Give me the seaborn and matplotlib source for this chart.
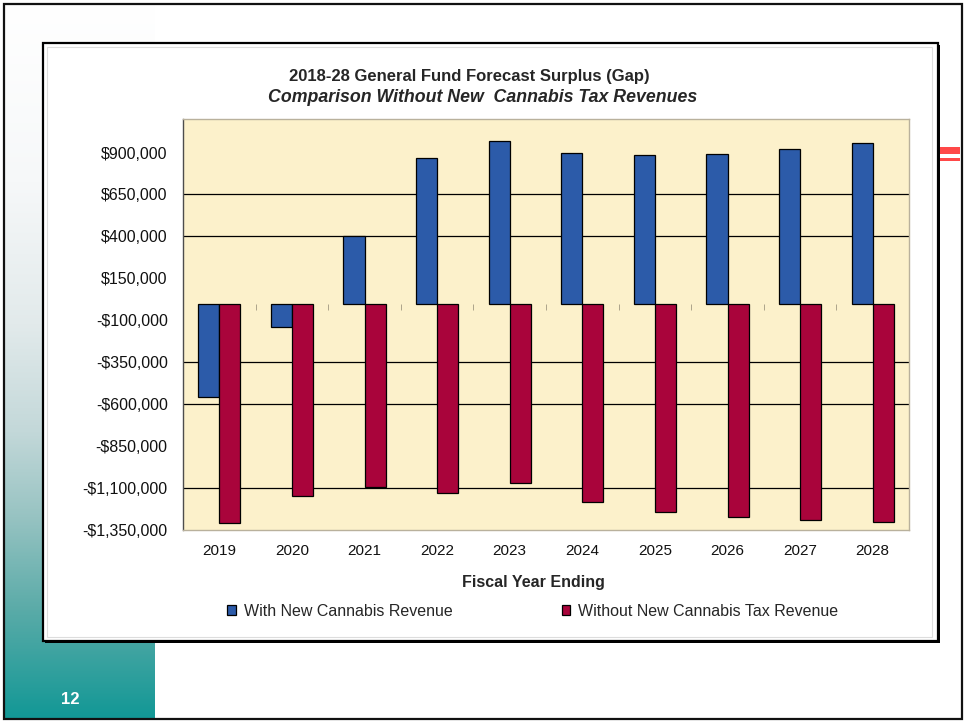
import numpy as np
import pandas as pd
import matplotlib
matplotlib.use("Agg")
import matplotlib.pyplot as plt
import matplotlib.ticker as mticker
from matplotlib import font_manager
from matplotlib.patches import Rectangle
from matplotlib.colors import LinearSegmentedColormap
import seaborn as sns

# ---- data -------------------------------------------------------------
years = ["2019", "2020", "2021", "2022", "2023", "2024", "2025", "2026", "2027", "2028"]
with_cannabis = [-560000, -140000, 405000, 870000, 970000, 900000, 887000, 893000, 920000, 954000]
without_cannabis = [-1310000, -1145000, -1095000, -1130000, -1068000,
                    -1183000, -1245000, -1273000, -1289000, -1304000]
series_names = ["With New Cannabis Revenue", "Without New Cannabis Tax Revenue"]
y_ticks = list(range(-1350000, 900001, 250000))
y_limits = (-1350000, 1100000)
title = "2018-28 General Fund Forecast Surplus (Gap)"
subtitle = "Comparison Without New  Cannabis Tax Revenues"
x_title = "Fiscal Year Ending"
page_number = "12"

# ---- style ------------------------------------------------------------
sns.set_style("white")
available = {f.name for f in font_manager.fontManager.ttflist}
regular = "Liberation Sans" if "Liberation Sans" in available else "DejaVu Sans"
narrow = "Liberation Sans Narrow" if "Liberation Sans Narrow" in available else regular
plt.rcParams["font.family"] = [regular, "DejaVu Sans"]

BLUE = "#2C5BA9"
RED = "#A9043B"
PLOT_BG = "#FCF1CB"

W, H = 965, 721
fig = plt.figure(figsize=(W / 100, H / 100), dpi=100)
fig.patch.set_facecolor("white")


def fx(px):
    return px / W


def fy(py):
    return 1 - py / H


# slide side band with a white-to-teal gradient
band = fig.add_axes([fx(5), fy(718), fx(150), (718 - 3) / H], zorder=0)
teal = LinearSegmentedColormap.from_list(
    "teal_band",
    [(0.0, "#ffffff"), (0.25, "#f6f8f9"), (0.45, "#e2eaeb"), (0.6, "#c3d8d9"),
     (0.72, "#97c3c2"), (0.85, "#5aaba8"), (1.0, "#139896")])
band.imshow(np.linspace(0, 1, 256).reshape(-1, 1), aspect="auto", cmap=teal,
            extent=(0, 1, 0, 1), origin="upper")
band.set_axis_off()

# decorative red rule peeking out on the right
fig.patches.append(Rectangle((fx(939), fy(154)), fx(21), 7 / H, transform=fig.transFigure,
                             facecolor="#FF4848", edgecolor="none", zorder=1))
fig.patches.append(Rectangle((fx(939), fy(161)), fx(21), 3 / H, transform=fig.transFigure,
                             facecolor="#FF4848", edgecolor="none", zorder=1))

# chart frame with shadow
fig.patches.append(Rectangle((fx(45), fy(643)), fx(938 - 43), (641 - 43) / H,
                             transform=fig.transFigure, facecolor="black",
                             edgecolor="none", zorder=1))
fig.patches.append(Rectangle((fx(43), fy(641)), fx(938 - 43), (641 - 43) / H,
                             transform=fig.transFigure, facecolor="white",
                             edgecolor="black", linewidth=1.6, zorder=1.1))
fig.patches.append(Rectangle((fx(47), fy(637)), fx(932 - 47), (637 - 47) / H,
                             transform=fig.transFigure, facecolor="none",
                             edgecolor="#dddddd", linewidth=0.8, zorder=1.2))

# ---- bars -------------------------------------------------------------
df = pd.DataFrame({
    "Year": years * 2,
    "Series": [series_names[0]] * len(years) + [series_names[1]] * len(years),
    "Value": with_cannabis + without_cannabis,
})

ax = fig.add_axes([fx(183), fy(530), fx(909 - 183), (530 - 119) / H], zorder=2)
sns.barplot(data=df, x="Year", y="Value", hue="Series", palette=[BLUE, RED],
            width=0.58, saturation=1, errorbar=None, edgecolor="black",
            linewidth=0.9, ax=ax)

ax.set_facecolor(PLOT_BG)
ax.set_ylim(*y_limits)
ax.set_yticks(y_ticks)
ax.yaxis.set_major_formatter(mticker.FuncFormatter(
    lambda v, _: f"-${abs(int(v)):,}" if v < 0 else f"${int(v):,}"))
ax.set_ylabel("")

ax.set_axisbelow(True)
ax.yaxis.grid(True, color="black", linewidth=0.9)
faint_levels = {900000, 150000, -100000, -850000, -1350000}
for tick, loc in zip(ax.yaxis.get_major_ticks(), ax.yaxis.get_majorticklocs()):
    if int(round(loc)) in faint_levels:
        tick.gridline.set_visible(False)

ax.tick_params(axis="y", direction="out", length=4, width=0.8, color="#555555",
               pad=7, labelsize=11.5, labelcolor="#111111")
ax.tick_params(axis="x", length=0, pad=10, labelsize=11, labelcolor="#111111")
for lab in ax.get_xticklabels():
    lab.set_family([narrow, regular])

for side in ("top", "right", "bottom"):
    ax.spines[side].set_color("#b9b19c")
    ax.spines[side].set_linewidth(1.0)
ax.spines["left"].set_color("#4d4d4d")
ax.spines["left"].set_linewidth(1.0)

# category axis crossing at zero: small tick marks between year groups
zero_frac = (0 - y_limits[0]) / (y_limits[1] - y_limits[0])
cat_axis = ax.secondary_xaxis(zero_frac)
cat_axis.set_xticks(np.arange(0.5, len(years) - 1, 1.0))
cat_axis.tick_params(direction="in", length=4, width=0.6, color="#a09880",
                     labelbottom=False, labeltop=False)
for sp in cat_axis.spines.values():
    sp.set_visible(False)

ax.set_xlabel(x_title, fontsize=11.5, fontweight="bold", family=[narrow, regular])
ax.xaxis.set_label_coords((533 - 183) / (909 - 183), -(575 - 530) / (530 - 119))

handles, labels = ax.get_legend_handles_labels()
ax.legend(handles, labels, loc="center", bbox_to_anchor=(fx(533), fy(611)),
          bbox_transform=fig.transFigure, ncol=2, frameon=False,
          handlelength=0.55, handleheight=0.55, handletextpad=0.5,
          columnspacing=6.8, prop={"family": [narrow, regular], "size": 11.5})

# ---- titles -----------------------------------------------------------
fig.text(fx(469), fy(76), title, ha="center", va="center", fontsize=12,
         fontweight="bold", family=[narrow, regular], zorder=3)
fig.text(fx(483), fy(97), subtitle, ha="center", va="center", fontsize=12.8,
         fontweight="bold", fontstyle="italic", family=[narrow, regular], zorder=3)
fig.text(fx(70), fy(700), page_number, ha="center", va="center", fontsize=12,
         fontweight="bold", color="white", zorder=3)

# slide border
fig.patches.append(Rectangle((fx(3.5), fy(718.5)), fx(961.5 - 3.5), (718.5 - 3.5) / H,
                             transform=fig.transFigure, facecolor="none",
                             edgecolor="#111111", linewidth=1.6, zorder=5))

fig.savefig("out.png", dpi=100)
